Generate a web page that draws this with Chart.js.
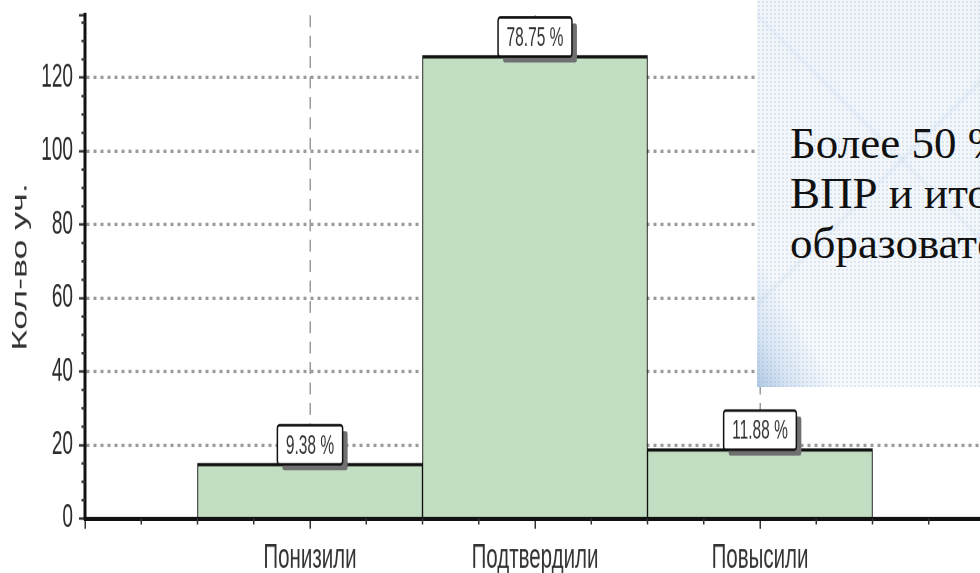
<!DOCTYPE html>
<html lang="ru">
<head>
<meta charset="utf-8">
<title>Кол-во уч.</title>
<script src="https://cdn.jsdelivr.net/npm/chart.js@4/dist/chart.umd.min.js"></script>
<style>
  html, body { margin: 0; padding: 0; background: #fff; overflow: hidden; }
  #wrap { position: relative; width: 980px; height: 573px; overflow: hidden; }
  /* the source picture is a vertically stretched screenshot, so the chart is drawn flat and stretched */
  #stretch { position: absolute; left: 0; top: 0; width: 985px; height: 337px;
             transform: scaleY(1.7); transform-origin: 0 0; }
  #slide { position: absolute; left: 757px; top: 0; width: 223px; height: 387px; overflow: hidden;
           box-sizing: border-box; padding: 118px 0 0 33px;
           font-family: "Liberation Serif", "Times New Roman", serif; font-size: 45px; line-height: 50px;
           color: #111; white-space: nowrap;
           background:
             linear-gradient(to top right, rgba(110,155,205,0.5) 0%, rgba(150,185,225,0.3) 8%, rgba(255,255,255,0) 18%),
             linear-gradient(135deg, rgba(255,255,255,0) 49%, rgba(175,200,228,0.18) 50%, rgba(255,255,255,0) 51%),
             linear-gradient(45deg, rgba(255,255,255,0) 60%, rgba(175,200,228,0.15) 61%, rgba(255,255,255,0) 62%),
             radial-gradient(circle, rgba(150,180,215,0.28) 0.7px, rgba(255,255,255,0) 1.3px) 0 0 / 4px 4px,
             linear-gradient(#f1f5f9, #f7f9fb);
  }
</style>
</head>
<body>
<div id="wrap">
  <div id="stretch"><canvas id="grafico" width="985" height="337"></canvas></div>
  <div id="slide">
    <div>Более 50 % обучающихся</div>
    <div>ВПР и итоговые отметки</div>
    <div>образовательной организации</div>
  </div>
</div>
<script>
const categories = ['Понизили', 'Подтвердили', 'Повысили']
const counts = [15, 126, 19]
const percents = [9.38, 78.75, 11.88]
const yTickLabels = [0, 20, 40, 60, 80, 100, 120]

const fonte = '"Liberation Sans", Arial, sans-serif'

// white boxes with a grey shadow above each bar
const caixas = {
  id: 'caixas',
  afterDatasetsDraw(chart) {
    const ctx = chart.ctx
    const meta = chart.getDatasetMeta(0)
    ctx.save()
    ctx.font = '15.5px ' + fonte
    ctx.textAlign = 'center'
    ctx.textBaseline = 'middle'
    meta.data.forEach((bar, i) => {
      const txt = percents[i].toFixed(2) + ' %'
      const w = ctx.measureText(txt).width + 17
      const h = 23
      const x = bar.x - w / 2
      const y = bar.y - h + 0.5
      ctx.fillStyle = '#707070'
      ctx.beginPath()
      ctx.roundRect(x + 5, y + 3.5, w, h, 2)
      ctx.fill()
      ctx.fillStyle = '#fff'
      ctx.strokeStyle = '#111'
      ctx.lineWidth = 1.5
      ctx.beginPath()
      ctx.roundRect(x, y, w, h, 2)
      ctx.fill()
      ctx.stroke()
      ctx.fillStyle = '#333'
      ctx.fillText(txt, bar.x, y + h / 2 + 1)
    })
    ctx.restore()
  }
}

// short minor tick marks on both axes
const marcas = {
  id: 'marcas',
  afterDraw(chart) {
    const { x, y } = chart.scales
    const ctx = chart.ctx
    ctx.save()
    ctx.strokeStyle = '#333'
    ctx.lineWidth = 1.5
    for (let v = x.min; v <= x.max; v += 0.25) {
      if (Number.isInteger(v)) continue
      const px = x.getPixelForValue(v)
      ctx.beginPath(); ctx.moveTo(px, x.top); ctx.lineTo(px, x.top + 3.5); ctx.stroke()
    }
    for (let v = y.min; v <= y.max; v += 5) {
      if (v % 20 === 0) continue
      const py = y.getPixelForValue(v)
      ctx.beginPath(); ctx.moveTo(y.right, py); ctx.lineTo(y.right - 3.5, py); ctx.stroke()
    }
    ctx.restore()
  }
}

new Chart(document.getElementById('grafico'), {
  type: 'bar',
  data: {
    datasets: [{
      data: categories.map((c, i) => ({ x: i + 1, y: counts[i] })),
      backgroundColor: '#c1dec2',
      borderColor: '#111',
      borderWidth: { top: 2, left: 1, right: 1, bottom: 0 },
      borderSkipped: 'bottom',
      barPercentage: 1,
      categoryPercentage: 1
    }]
  },
  options: {
    responsive: false,
    animation: false,
    devicePixelRatio: 2,
    layout: { padding: { top: 9, right: 0, bottom: 0, left: 0 } },
    plugins: { legend: { display: false }, tooltip: { enabled: false } },
    scales: {
      x: {
        type: 'linear',
        min: 0,
        max: 4,
        offset: false,
        afterFit: s => { s.height = 32; s.paddingLeft = 0; s.paddingRight = 0 },
        grid: {
          offset: false,
          color: c => (c.tick.value >= 1 && c.tick.value <= categories.length) ? '#9a9a9a' : 'rgba(0,0,0,0)',
          lineWidth: 1.5,
          tickColor: '#333',
          tickWidth: 1.5,
          tickLength: 6
        },
        border: { color: '#111', width: 2.5, dash: [7, 5], z: 1 },
        ticks: {
          stepSize: 1,
          autoSkip: false,
          maxRotation: 0,
          padding: 5,
          color: '#333',
          font: { family: fonte, size: 20.5 },
          callback: v => v >= 1 && v <= categories.length ? categories[v - 1] : ''
        }
      },
      y: {
        min: 0,
        max: 137,
        afterFit: s => { s.width = 85; s.paddingTop = 0; s.paddingBottom = 0 },
        grid: {
          color: c => yTickLabels.includes(c.tick.value) && c.tick.value > 0 ? '#9a9a9a' : 'rgba(0,0,0,0)',
          lineWidth: 2,
          tickColor: '#333',
          tickWidth: 1.5,
          tickLength: 6
        },
        border: { color: '#111', width: 3, dash: [3, 4], z: 1 },
        ticks: {
          stepSize: 20,
          autoSkip: false,
          padding: 6,
          color: '#2b2b2b',
          font: { family: fonte, size: 19 },
          callback: v => yTickLabels.includes(v) ? String(v) : ''
        },
        title: {
          display: true,
          text: 'Кол-во уч.',
          color: '#333',
          font: { family: fonte, size: 21 },
          padding: { top: 8, bottom: 0 }
        }
      }
    }
  },
  plugins: [caixas, marcas]
})
</script>
</body>
</html>
